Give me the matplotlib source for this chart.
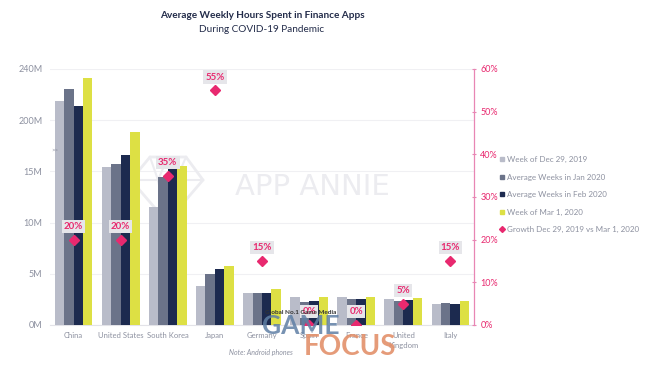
import matplotlib
matplotlib.use("Agg")
import matplotlib.pyplot as plt
from matplotlib.lines import Line2D
from matplotlib.patches import Polygon
import numpy as np

plt.rcParams['font.family'] = ['Lato', 'DejaVu Sans']

countries = ["China", "United States", "South Korea", "Japan", "Germany",
             "Spain", "France", "United\nKingdom", "Italy"]
series_names = ["Week of Dec 29, 2019", "Average Weeks in Jan 2020",
                "Average Weeks in Feb 2020", "Week of Mar 1, 2020"]
week_dec29 = [219, 154, 115, 38, 31.5, 27.5, 27, 25.5, 20.5]
avg_jan = [230, 157.5, 145, 50, 31, 22.5, 25.5, 23.5, 21.5]
avg_feb = [214, 166, 154, 55, 31.5, 23.5, 25, 24.5, 20.5]
week_mar1 = [241, 188, 155, 58, 35.5, 27.5, 27, 26.5, 23.5]
growth = [20, 20, 35, 55, 15, 0, 0, 5, 15]
growth_name = "Growth Dec 29, 2019 vs Mar 1, 2020"
left_ticks = [0, 50, 100, 150, 200, 250]
left_labels = ["0M", "5M", "10M", "15M", "200M", "240M"]
right_ticks = [0, 10, 20, 30, 40, 50, 60]

colors = ["#b9bcc9", "#6b7389", "#1c2a4f", "#dde044"]
pink = "#e8296f"
pink_axis = "#e886b4"
gray_txt = "#8d91a0"
wm = "#ececf0"

W, H = 660, 371
def fp(px, py):
    return (px / W, 1 - py / H)

fig = plt.figure(figsize=(6.6, 3.71), dpi=100)
ax = fig.add_axes([50/W, 1-325/H, 424/W, 256/H])
ax2 = ax.twinx()

x = np.arange(len(countries))
w = 0.2
for i, (vals, c) in enumerate(zip([week_dec29, avg_jan, avg_feb, week_mar1], colors)):
    ax.bar(x + (i - 1.5) * w, vals, width=w, color=c, zorder=3, label=series_names[i])

ax.set_xlim(-0.5, len(countries) - 0.5)
ax.set_ylim(0, 250)
ax.set_yticks(left_ticks)
ax.set_yticklabels(left_labels)
ax.grid(axis='y', color='#f0f0f3', linewidth=0.8, zorder=0)
ax.set_axisbelow(True)
ax.set_xticks(x)
ax.set_xticklabels(countries, fontsize=5.5, color=gray_txt, linespacing=1.5)
ax.tick_params(axis='x', length=0, pad=5)
ax.tick_params(axis='y', length=0, labelsize=6.5, labelcolor=gray_txt, pad=5.5)
for s in ['top', 'right', 'left']:
    ax.spines[s].set_visible(False)
ax.spines['bottom'].set_color('#e3e3e8')
ax.spines['bottom'].set_linewidth(0.8)
ax.text(-0.47, 171, ">>", fontsize=4.5, color=gray_txt, ha='left', va='center')

# watermark: gem logo + APP ANNIE (behind bars)
gem = Polygon([fp(150, 157), fp(186, 157), fp(203, 180), fp(167, 222), fp(131, 180)],
              closed=True, fill=False, ec=wm, lw=2, transform=fig.transFigure, zorder=1)
ax.add_patch(gem)
for seg in [[(131, 180), (203, 180)], [(150, 157), (158, 180), (167, 222)],
            [(186, 157), (176, 180), (167, 222)], [(158, 180), (168, 157), (176, 180)]]:
    ax.add_line(Line2D([fp(*p)[0] for p in seg], [fp(*p)[1] for p in seg], color=wm, lw=1.5,
                       transform=fig.transFigure, zorder=1))
ax.text(*fp(312, 187), "APP ANNIE", fontsize=21, color=wm, ha='center', va='center',
        family='DejaVu Sans', transform=fig.transFigure, zorder=1)

ax2.set_ylim(0, 60)
ax2.set_yticks(right_ticks)
ax2.set_yticklabels([f"{t}%" for t in right_ticks])
ax2.tick_params(axis='y', colors=pink_axis, labelcolor=pink, labelsize=6.5,
                length=3, width=0.8, direction='inout', pad=3)
for s in ['top', 'left', 'bottom']:
    ax2.spines[s].set_visible(False)
ax2.spines['right'].set_color(pink_axis)
ax2.spines['right'].set_linewidth(0.9)
ax2.spines['right'].set_bounds(0, 60)

ax2.plot(x, growth, linestyle='none', marker='D', markersize=5.5, color=pink, zorder=5)
for xi, g in zip(x, growth):
    ax2.annotate(f"{g}%", (xi, g), xytext=(0, 9.5), textcoords='offset points',
                 ha='center', va='center', fontsize=7, fontweight='bold', color=pink,
                 bbox=dict(boxstyle='square,pad=0.22', fc='#e6e6ea', ec='none'), zorder=6)

# legend
handles = [Line2D([], [], linestyle='none', marker='s', markersize=3.5, color=c) for c in colors]
handles.append(Line2D([], [], linestyle='none', marker='D', markersize=3, color=pink))
fig.legend(handles, series_names + [growth_name], loc='upper left',
           bbox_to_anchor=fp(500, 156), frameon=False, fontsize=5.8,
           labelcolor=gray_txt, handlelength=0.6, handletextpad=0.3, labelspacing=1.3,
           borderaxespad=0, borderpad=0)

# titles
fig.text(*fp(262, 15), "Average Weekly Hours Spent in Finance Apps", ha='center', va='center',
         fontsize=7.2, fontweight='bold', color="#232c4a")
fig.text(*fp(262, 29), "During COVID-19 Pandemic", ha='center', va='center',
         fontsize=7.2, color="#232c4a")
fig.text(*fp(261, 352), "Note: Android phones", ha='center', va='center',
         fontsize=5, style='italic', color=gray_txt)

# Game Focus watermark
fig.text(*fp(301, 325.5), "GAME", ha='center', va='center', fontsize=19,
         fontweight='bold', color="#5f7fa5", alpha=0.85, zorder=10)
fig.text(*fp(350, 347), "FOCUS", ha='center', va='center', fontsize=20,
         fontweight='bold', color="#e3906a", alpha=0.9, zorder=10)
fig.text(*fp(301, 312), "Global No.1 Game Media", ha='center', va='center',
         fontsize=4.6, fontweight='bold', color="#333333", zorder=11)

fig.savefig("out.png", dpi=100, facecolor='white')
